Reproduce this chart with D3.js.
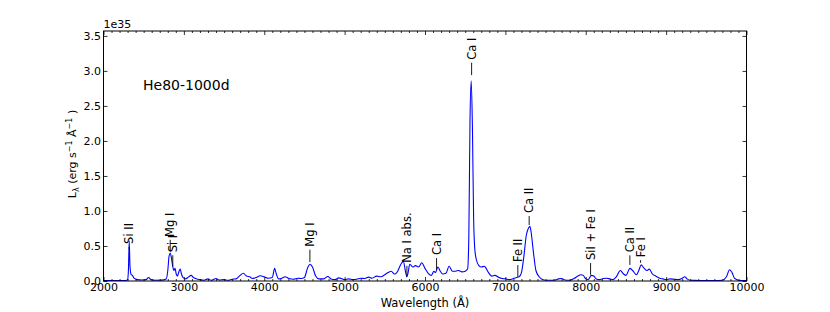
<!DOCTYPE html>
<html><head><meta charset="utf-8">
<script src="https://cdn.jsdelivr.net/npm/d3@7"></script>
<style>
html,body{margin:0;padding:0;background:#fff;}
svg text{font-family:"DejaVu Sans",sans-serif;fill:#000;}
</style></head>
<body><svg id="c" width="830" height="312"></svg>
<script>
// Spectrum (wavelength in Å, luminosity in units of 1e35 erg/s/Å)
const wavelength = [2000,2100,2200,2280,2300,2310,2320,2330,2345,2360,2380,2420,2480,2530,2560,2590,2650,2720,2780,2800,2815,2830,2845,2860,2875,2890,2905,2920,2940,2955,2970,2990,3020,3050,3090,3120,3160,3200,3250,3300,3340,3400,3440,3500,3550,3600,3650,3700,3740,3780,3820,3850,3900,3950,4000,4050,4100,4130,4150,4180,4220,4260,4300,4360,4420,4460,4500,4540,4570,4600,4640,4680,4740,4790,4830,4880,4930,4970,5000,5050,5100,5150,5200,5250,5300,5340,5400,5450,5500,5540,5580,5620,5650,5700,5730,5760,5775,5790,5810,5850,5880,5920,5960,6000,6040,6080,6110,6130,6160,6190,6220,6260,6300,6340,6380,6420,6460,6500,6530,6545,6560,6575,6590,6605,6620,6640,6670,6700,6740,6760,6790,6830,6870,6920,6960,7000,7050,7100,7140,7170,7200,7230,7260,7290,7305,7320,7350,7380,7420,7460,7500,7560,7620,7660,7700,7740,7800,7860,7900,7940,7970,8000,8030,8070,8100,8130,8170,8220,8260,8300,8340,8380,8430,8470,8500,8550,8590,8630,8660,8690,8720,8760,8790,8830,8870,8920,8960,9000,9050,9100,9150,9200,9230,9260,9300,9400,9500,9600,9700,9750,9790,9820,9850,9900,10000];
const luminosity = [0.005,0.005,0.006,0.008,0.02,0.15,0.57,0.2,0.09,0.08,0.04,0.02,0.015,0.02,0.05,0.02,0.01,0.012,0.03,0.15,0.35,0.40,0.33,0.22,0.15,0.18,0.10,0.07,0.14,0.17,0.10,0.05,0.03,0.05,0.08,0.05,0.03,0.02,0.01,0.03,0.01,0.035,0.015,0.02,0.01,0.025,0.03,0.08,0.11,0.07,0.06,0.035,0.05,0.075,0.06,0.04,0.05,0.18,0.10,0.03,0.04,0.06,0.04,0.025,0.04,0.035,0.05,0.19,0.24,0.20,0.07,0.03,0.03,0.065,0.03,0.02,0.045,0.03,0.02,0.03,0.02,0.025,0.04,0.035,0.055,0.04,0.07,0.06,0.09,0.12,0.14,0.10,0.12,0.24,0.28,0.12,0.06,0.12,0.24,0.20,0.22,0.20,0.26,0.18,0.11,0.08,0.14,0.12,0.20,0.14,0.10,0.11,0.21,0.14,0.14,0.15,0.13,0.14,0.17,0.6,2.3,2.86,2.2,0.9,0.45,0.30,0.22,0.20,0.21,0.18,0.12,0.07,0.08,0.05,0.035,0.03,0.02,0.035,0.05,0.06,0.12,0.35,0.65,0.76,0.78,0.70,0.40,0.15,0.06,0.02,0.01,0.01,0.015,0.03,0.035,0.015,0.01,0.04,0.07,0.09,0.08,0.03,0.02,0.08,0.07,0.03,0.02,0.035,0.04,0.03,0.02,0.06,0.15,0.10,0.08,0.18,0.14,0.09,0.15,0.23,0.19,0.15,0.17,0.10,0.07,0.04,0.03,0.02,0.03,0.025,0.02,0.04,0.06,0.03,0.01,0.008,0.006,0.006,0.01,0.06,0.16,0.12,0.04,0.01,0.005];

// Line identifications
const lineNames = ["Si II","Mg I","Si I","Mg I","Na I abs.","Ca I","Ca I","Fe II","Ca II","SiI + Fe I","Ca II","Fe I"];
const lineWave  = [2320,2830,2862,4568,5775,6144,6580,7155,7296,8060,8549,8682];
const lineTextY = [0.53,0.63,0.41,0.49,0.26,0.37,3.16,0.27,0.97,0.30,0.41,0.34];
const lineTipY  = [0.45,0.42,0.21,0.27,0.06,0.16,2.94,0.06,0.80,0.09,0.23,0.26];

const xTicks = [2000,3000,4000,5000,6000,7000,8000,9000,10000];
const yTicks = [0.0,0.5,1.0,1.5,2.0,2.5,3.0,3.5];
const xDomain = [2000,10000], yDomain = [0,3.57];
const modelName = "He80-1000d";

const L=103.5, R=746.5, T=31, B=281;
const svg = d3.select("#c");
const x = d3.scaleLinear().domain(xDomain).range([L,R]);
const y = d3.scaleLinear().domain(yDomain).range([B,T]);

svg.append("clipPath").attr("id","pc").append("rect").attr("x",L).attr("y",T).attr("width",R-L).attr("height",B-T);
svg.append("path").datum(wavelength.map((w,i)=>[w,luminosity[i]]))
 .attr("clip-path","url(#pc)")
 .attr("fill","none").attr("stroke","#0000ff").attr("stroke-width",1.1)
 .attr("d", d3.line().x(d=>x(d[0])).y(d=>y(d[1])).curve(d3.curveMonotoneX));

const fmtY = d3.format(".1f");
const axB = d3.axisBottom(x).tickValues(xTicks).tickSize(-4).tickPadding(2.5).tickFormat(d3.format("d"));
const axT = d3.axisTop(x).tickValues(xTicks).tickSize(-4).tickFormat("");
const axL = d3.axisLeft(y).tickValues(yTicks).tickSize(-4).tickPadding(2.5).tickFormat(fmtY);
const axR = d3.axisRight(y).tickValues(yTicks).tickSize(-4).tickFormat("");
const minor = d3.range(2000,10001,100).filter(v=>v%1000!==0);
const axBm = d3.axisBottom(x).tickValues(minor).tickSize(-2).tickFormat("");
const axTm = d3.axisTop(x).tickValues(minor).tickSize(-2).tickFormat("");

function style(sel){ sel.selectAll(".domain").remove(); sel.selectAll("line").attr("stroke","#000").attr("stroke-width",0.8);
  sel.selectAll("text").attr("font-size","11px").attr("font-family","DejaVu Sans").attr("fill","#000"); }
style(svg.append("g").attr("transform",`translate(0,${B})`).call(axB));
style(svg.append("g").attr("transform",`translate(0,${T})`).call(axT));
style(svg.append("g").attr("transform",`translate(${L},0)`).call(axL));
style(svg.append("g").attr("transform",`translate(${R},0)`).call(axR));
style(svg.append("g").attr("transform",`translate(0,${B})`).call(axBm));
style(svg.append("g").attr("transform",`translate(0,${T})`).call(axTm));
svg.append("rect").attr("x",L).attr("y",T).attr("width",R-L).attr("height",B-T).attr("fill","none").attr("stroke","#000").attr("stroke-width",1);

svg.append("text").attr("x",L).attr("y",T-3).attr("font-size","11px").text("1e35");

lineNames.forEach((n,i)=>{
  const xp = x(lineWave[i]);
  const ty = y(lineTextY[i]);
  svg.append("line").attr("x1",xp).attr("x2",xp).attr("y1",y(lineTipY[i])).attr("y2",ty+3)
     .attr("stroke","#000").attr("stroke-width",0.9);
  svg.append("text").attr("transform",`translate(${xp},${ty}) rotate(-90)`).attr("dy","0.36em")
     .attr("font-size","11.5px").text(n);
});

svg.append("text").attr("x",143).attr("y",90).attr("font-size","14px").text(modelName);

svg.append("text").attr("x",(L+R)/2).attr("y",307).attr("text-anchor","middle").attr("font-size","11.5px").text("Wavelength (Å)");
const yl = svg.append("text").attr("transform",`translate(76,${(T+B)/2-2}) rotate(-90)`).attr("text-anchor","middle").attr("font-size","11px");
yl.append("tspan").text("L");
yl.append("tspan").attr("font-size","8px").attr("dy","3").text("λ");
yl.append("tspan").attr("dy","-3").text(" (erg s");
yl.append("tspan").attr("font-size","8px").attr("dy","-4").text("−1");
yl.append("tspan").attr("dy","4").text(" Å");
yl.append("tspan").attr("font-size","8px").attr("dy","-4").text("−1");
yl.append("tspan").attr("dy","4").text(" )");
</script></body></html>
